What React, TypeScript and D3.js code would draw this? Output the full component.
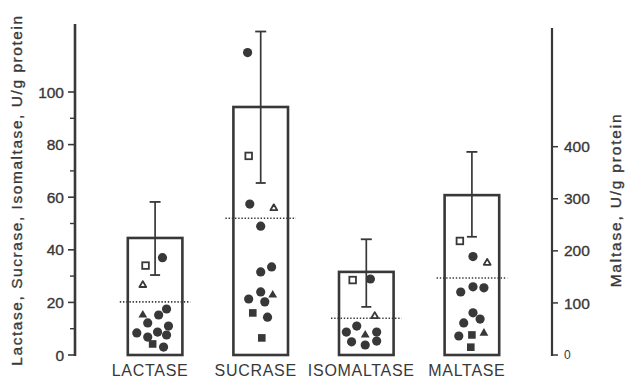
import React from "react";
import * as d3 from "d3";

// ---- data ----
const categories = ["LACTASE", "SUCRASE", "ISOMALTASE", "MALTASE"];
const means = [44.5, 94.3, 31.6, 307];
const sdUpper = [58.2, 123, 44, 390];
const sdLower = [30.4, 65.4, 18.3, 227];
const medians = [20.2, 52, 14, 148];
const axisOf = ["left", "left", "left", "right"];

const leftTicks = [0, 20, 40, 60, 80, 100];
const leftMinorTicks = [10, 30, 50, 70, 90];
const rightTicks = [0, 100, 200, 300, 400];

// marker codes: c filled circle, s filled square, t filled triangle, S open square, T open triangle
const lactaseValues = [37, 34, 26.6, 15.2, 17.5, 15.2, 12.2, 11, 8.4, 8.7, 7.6, 6.8, 4.2, 3];
const lactaseJitter = [0.27, -0.35, -0.45, -0.45, 0.42, 0.13, -0.27, 0.49, -0.67, 0.09, 0.42, -0.27, -0.09, 0.31];
const lactaseMarks = ["c", "S", "T", "t", "c", "c", "c", "c", "c", "c", "c", "c", "s", "c"];

const sucraseValues = [115, 75.7, 57.4, 55.8, 49, 33.5, 31.6, 24, 21.3, 20.2, 22.8, 16, 14.4, 6.5];
const sucraseJitter = [-0.48, -0.44, -0.4, 0.48, 0, 0.4, 0, 0, -0.44, 0.15, 0.44, -0.29, 0.25, 0.04];
const sucraseMarks = ["c", "S", "c", "T", "c", "c", "c", "c", "c", "c", "t", "s", "c", "s"];

const isomaltaseValues = [28.5, 28.9, 14.8, 11, 7.6, 8.7, 8.7, 5, 3.8, 5.3];
const isomaltaseJitter = [-0.5, 0.15, 0.31, -0.35, -0.04, 0.38, -0.73, -0.54, -0.04, 0.38];
const isomaltaseMarks = ["S", "c", "T", "c", "t", "c", "c", "c", "c", "c"];

const maltaseValues = [219, 189, 177, 121, 131, 129, 81, 69, 61.5, 36.5, 38.5, 42, 15];
const maltaseJitter = [-0.44, 0.04, 0.56, -0.41, 0.04, 0.44, 0.04, 0.3, -0.3, -0.48, 0, 0.44, -0.04];
const maltaseMarks = ["S", "c", "T", "c", "c", "c", "c", "c", "c", "c", "s", "t", "s"];

const pointValues = [lactaseValues, sucraseValues, isomaltaseValues, maltaseValues];
const pointJitter = [lactaseJitter, sucraseJitter, isomaltaseJitter, maltaseJitter];
const pointMarks = [lactaseMarks, sucraseMarks, isomaltaseMarks, maltaseMarks];

const leftTitle = "Lactase, Sucrase, Isomaltase, U/g protein";
const rightTitle = "Maltase, U/g protein";

// ---- layout ----
const W = 626;
const H = 379;
const INK = "#383838";
const FONT = "'Liberation Sans', Arial, Helvetica, sans-serif";
const axisLeftX = 75;
const axisRightX = 552;
const y0 = 355;

const x = d3
  .scaleBand<string>()
  .domain(categories)
  .range([axisLeftX, axisRightX])
  .paddingInner(0.483)
  .paddingOuter(0.5);

const yL = d3.scaleLinear().domain([0, 100]).range([y0, 92]);
const yR = d3.scaleLinear().domain([0, 400]).range([y0, 146.7]);
const jitterScale = d3.scaleLinear().domain([-1, 1]).range([-x.bandwidth() / 2, x.bandwidth() / 2]);

const textStyle = { stroke: INK, strokeWidth: 0.35 };

function Marker({ kind, cx, cy }: { kind: string; cx: number; cy: number }) {
  const r = 4.6;
  const sq = 7.6;
  const tri = 8.8;
  if (kind === "c") return <circle cx={cx} cy={cy} r={r} fill={INK} />;
  if (kind === "s")
    return <rect x={cx - sq / 2} y={cy - sq / 2} width={sq} height={sq} fill={INK} />;
  if (kind === "S")
    return (
      <rect x={cx - 3.3} y={cy - 3.3} width={6.6} height={6.6} fill="white" stroke={INK} strokeWidth={1.8} />
    );
  const h = (tri * Math.sqrt(3)) / 2;
  const pts = `${cx - tri / 2},${cy + h / 3} ${cx + tri / 2},${cy + h / 3} ${cx},${cy - (2 * h) / 3}`;
  if (kind === "t") return <polygon points={pts} fill={INK} />;
  const t2 = 6.8;
  const h2 = (t2 * Math.sqrt(3)) / 2;
  const pts2 = `${cx - t2 / 2},${cy + h2 / 3} ${cx + t2 / 2},${cy + h2 / 3} ${cx},${cy - (2 * h2) / 3}`;
  return <polygon points={pts2} fill="white" stroke={INK} strokeWidth={1.8} strokeLinejoin="round" />;
}

export default function App() {
  const bw = x.bandwidth();
  return (
    <svg width={W} height={H} style={{ display: "block", position: "absolute", left: 0, top: 0, background: "white" }}>
      <rect width={W} height={H} fill="white" />
      {/* left axis */}
      <line x1={axisLeftX} x2={axisLeftX} y1={y0 + 1} y2={24} stroke={INK} strokeWidth={2.6} />
      {leftTicks.map((t) => (
        <g key={"lt" + t}>
          <line x1={axisLeftX - 7} x2={axisLeftX} y1={yL(t)} y2={yL(t)} stroke={INK} strokeWidth={1.6} />
          <text
            x={axisLeftX - 11}
            y={yL(t)}
            dy="0.36em"
            textAnchor="end"
            fontFamily={FONT}
            fontSize={15.5}
            fill={INK}
            style={textStyle}
          >
            {t}
          </text>
        </g>
      ))}
      {leftMinorTicks.map((t) => (
        <line key={"lm" + t} x1={axisLeftX - 5} x2={axisLeftX} y1={yL(t)} y2={yL(t)} stroke={INK} strokeWidth={1.4} />
      ))}
      <text
        transform={`translate(22, ${190}) rotate(-90)`}
        textAnchor="middle"
        fontFamily={FONT}
        fontSize={15.5}
        letterSpacing={1.55}
        fill={INK}
        style={textStyle}
      >
        {leftTitle}
      </text>

      {/* right axis */}
      <line x1={axisRightX} x2={axisRightX} y1={y0 + 1} y2={28} stroke={INK} strokeWidth={2.2} />
      {rightTicks.map((t) => (
        <g key={"rt" + t}>
          <line x1={axisRightX} x2={axisRightX + 6} y1={yR(t)} y2={yR(t)} stroke={INK} strokeWidth={1.5} />
          <text
            x={axisRightX + 12}
            y={yR(t)}
            dy="0.36em"
            textAnchor="start"
            fontFamily={FONT}
            fontSize={t === 0 ? 12 : 15.5}
            fill={INK}
            style={t === 0 ? undefined : textStyle}
          >
            {t}
          </text>
        </g>
      ))}
      <text
        transform={`translate(621, ${200}) rotate(-90)`}
        textAnchor="middle"
        fontFamily={FONT}
        fontSize={15.5}
        letterSpacing={1.8}
        fill={INK}
        style={textStyle}
      >
        {rightTitle}
      </text>

      {/* bars */}
      {categories.map((c, i) => {
        const ys = axisOf[i] === "left" ? yL : yR;
        const bx = x(c) as number;
        const cx = bx + bw / 2;
        return (
          <g key={c}>
            <rect
              x={bx}
              y={ys(means[i])}
              width={bw}
              height={ys(0) - ys(means[i])}
              fill="none"
              stroke={INK}
              strokeWidth={2.6}
            />
            {pointValues[i].map((v, j) => (
              <Marker key={j} kind={pointMarks[i][j]} cx={cx + jitterScale(pointJitter[i][j])} cy={ys(v)} />
            ))}
            <line
              x1={bx - 8}
              x2={bx + bw + 8}
              y1={ys(medians[i])}
              y2={ys(medians[i])}
              stroke={INK}
              strokeWidth={1.6}
              strokeDasharray="1.4 1.8"
            />
            <line x1={cx} x2={cx} y1={ys(sdLower[i])} y2={ys(sdUpper[i])} stroke={INK} strokeWidth={1.7} />
            <line x1={cx - 5.5} x2={cx + 5.5} y1={ys(sdUpper[i])} y2={ys(sdUpper[i])} stroke={INK} strokeWidth={1.8} />
            <line x1={cx - 5} x2={cx + 5} y1={ys(sdLower[i])} y2={ys(sdLower[i])} stroke={INK} strokeWidth={1.8} />
            <text
              x={cx - 5}
              y={376}
              textAnchor="middle"
              fontFamily={FONT}
              fontSize={16}
              letterSpacing={0.7}
              fill={INK}
            >
              {c}
            </text>
          </g>
        );
      })}
    </svg>
  );
}
